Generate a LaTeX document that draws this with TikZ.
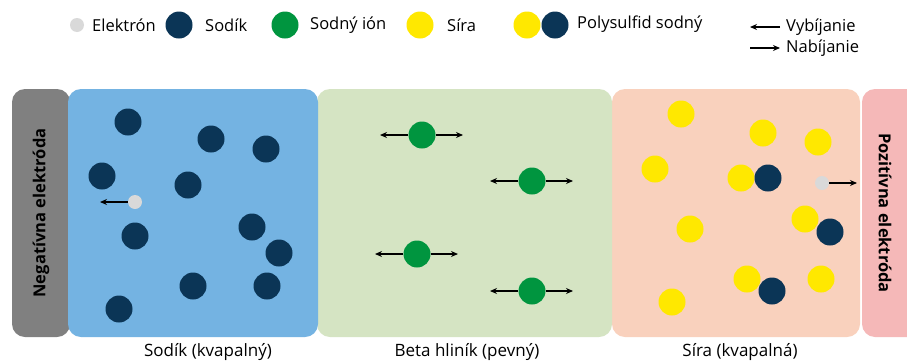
\documentclass[tikz,border=0pt]{standalone}
\usepackage{fontspec}
\setmainfont{Open Sans}
\usetikzlibrary{arrows.meta}
\definecolor{navy}{HTML}{0B3556}
\definecolor{ion}{HTML}{00953F}
\definecolor{sulf}{HTML}{FFE800}
\definecolor{elec}{HTML}{D9D9D9}
\definecolor{negc}{HTML}{808080}
\definecolor{bluec}{HTML}{74B3E2}
\definecolor{greenc}{HTML}{D5E4C3}
\definecolor{peachc}{HTML}{F9D1BD}
\definecolor{pinkc}{HTML}{F5B8B8}
\tikzset{
  na/.style={circle,fill=navy,minimum size=27pt,inner sep=0pt},
  ionb/.style={circle,fill=ion,minimum size=27pt,inner sep=0pt},
  sb/.style={circle,fill=sulf,minimum size=27pt,inner sep=0pt},
  el/.style={circle,fill=elec,minimum size=14pt,inner sep=0pt},
  arr/.style={-{Stealth[length=7pt,width=6pt]},line width=1.4pt,black},
  panel/.style={rounded corners=13pt},
  lbl/.style={font=\fontsize{16.5}{19}\selectfont,inner sep=0pt},
  blbl/.style={font=\fontsize{17}{20}\selectfont,inner sep=0pt},
  elab/.style={font=\fontsize{16.5}{19}\selectfont\bfseries,inner sep=0pt}
}
\begin{document}
\begin{tikzpicture}[x=1pt,y=-1pt]
\useasboundingbox[fill=white] (0,0) rectangle (907,362);
% panels
\fill[pinkc,panel] (862,89) rectangle (930,337);
\fill[peachc,panel] (612,89) rectangle (860,337);
\fill[greenc,panel] (317,89) rectangle (612,337);
\fill[negc,panel] (12,89) rectangle (70,337);
\fill[bluec,panel] (68,89) rectangle (318,337);
\node[elab,rotate=90] (neg) at (41,213) {Negatívna elektróda};
\node[elab,rotate=-90] (pos) at (885,213) {Pozitívna elektróda};
% bottom labels
\node[blbl] (l1) at (208,352) {Sodík (kvapalný)};
\node[blbl] (l2) at (467,352) {Beta hliník (pevný)};
\node[blbl] (l3) at (740,352) {Síra (kvapalná)};
% sodium
\foreach \n/\x/\y in {a/128/122,b/211/139,c/266/149,d/102/176,e/188/185,f/135/236,g/252/227,h/279/253,i/193/286,j/267/286,k/119/309}
  \node[na] (na\n) at (\x,\y) {};
\node[el] (e1) at (135,202) {};
\coordinate (e1t) at (100,202);
\draw[arr] (e1) -- (e1t);
% ions
\foreach \n/\x/\y/\l/\r in {1/422/135/380/463,2/532/181/490/573,3/417/254/375/458,4/532/291/490/573}{
  \node[ionb] (ion\n) at (\x,\y) {};
  \coordinate (il\n) at (\l,\y);
  \coordinate (ir\n) at (\r,\y);
  \draw[arr] (ion\n) -- (il\n);
  \draw[arr] (ion\n) -- (ir\n);
}
% sulfur
\foreach \n/\x/\y in {a/681/114,b/763/133,c/818/142,d/655/169,e/741/178,f/805/219,g/690/229,h/747/279,i/821/279,j/672/302}
  \node[sb] (s\n) at (\x,\y) {};
\node[na] (ps1) at (768,178) {};
\node[na] (ps2) at (830,232) {};
\node[na] (ps3) at (772,291) {};
\node[el] (e2) at (822,183) {};
\coordinate (e2t) at (857,183);
\draw[arr] (e2) -- (e2t);
% legend
\node[el] (le) at (77,25) {};
\node[lbl,anchor=west] (lte) at (92,25) {Elektrón};
\node[na] (lna) at (179,25) {};
\node[lbl,anchor=west] (ltna) at (205,25) {Sodík};
\node[ionb] (lion) at (285,25) {};
\node[lbl,anchor=west] (ltion) at (310,25) {Sodný ión};
\node[sb] (ls) at (420,25) {};
\node[lbl,anchor=west] (lts) at (447,25) {Síra};
\node[sb] (lps1) at (527,25) {};
\node[na] (lps2) at (555,25) {};
\node[lbl,anchor=west] (ltps) at (577,24) {Polysulfid sodný};
\coordinate (v1) at (780,27);
\coordinate (v2) at (750,27);
\draw[arr] (v1) -- (v2);
\node[lbl,anchor=west] (ltv) at (786,27) {Vybíjanie};
\coordinate (n1) at (750,48);
\coordinate (n2) at (780,48);
\draw[arr] (n1) -- (n2);
\node[lbl,anchor=west] (ltn) at (786,48) {Nabíjanie};
\end{tikzpicture}
\end{document}
